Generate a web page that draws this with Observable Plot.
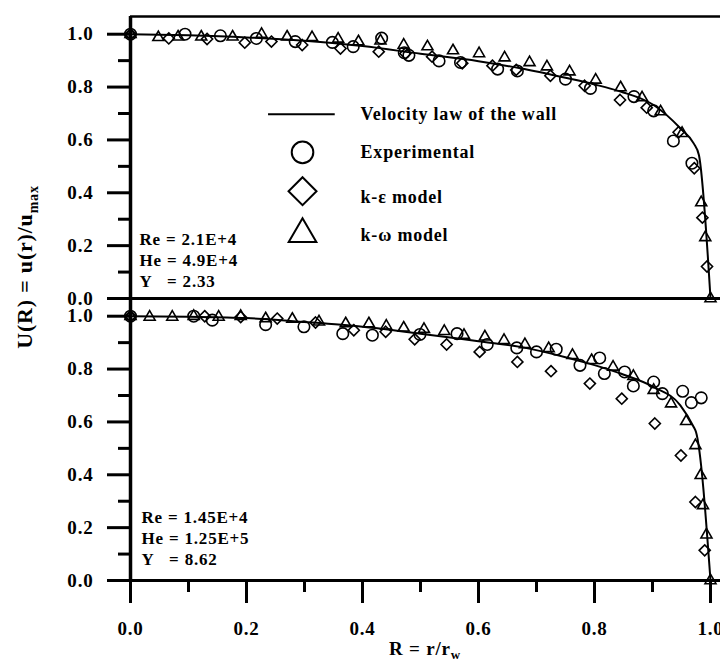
<!DOCTYPE html>
<html><head><meta charset="utf-8">
<script src="https://cdn.jsdelivr.net/npm/d3@7"></script>
<script src="https://cdn.jsdelivr.net/npm/@observablehq/plot@0.6"></script>
<style>
body{margin:0;background:#fff;}
#chart{position:relative;width:720px;height:664px;overflow:hidden;background:#fff;}
</style></head><body><div id="chart"></div>
<script>
// ---------- data (R = r/r_w, U(R)) ----------
const topLaw = [[0,1.0],[0.1,0.996],[0.2,0.988],[0.3,0.975],[0.4,0.955],[0.5,0.926],[0.6,0.898],[0.672,0.871],[0.75,0.835],[0.8,0.81],[0.845,0.783],[0.902,0.732],[0.948,0.644],[0.971,0.587],[0.98,0.543],[1.0,0.0]];
const topExperimental = [[0,1.0],[0.094,1.0],[0.155,0.994],[0.217,0.984],[0.284,0.972],[0.348,0.969],[0.384,0.953],[0.433,0.985],[0.472,0.93],[0.48,0.92],[0.532,0.899],[0.569,0.893],[0.633,0.868],[0.667,0.861],[0.75,0.83],[0.793,0.795],[0.868,0.764],[0.902,0.71],[0.936,0.596],[0.968,0.512]];
const topKEpsilon = [[0,1.0],[0.066,0.984],[0.132,0.982],[0.197,0.968],[0.243,0.972],[0.296,0.959],[0.362,0.946],[0.428,0.934],[0.474,0.927],[0.520,0.915],[0.572,0.890],[0.624,0.881],[0.665,0.865],[0.724,0.843],[0.783,0.805],[0.844,0.751],[0.890,0.722],[0.945,0.629],[0.972,0.493],[0.986,0.306],[0.994,0.121]];
const topKOmega = [[0,1.0],[0.048,0.988],[0.082,0.99],[0.122,0.99],[0.176,0.99],[0.226,1.0],[0.270,0.99],[0.313,0.988],[0.358,0.982],[0.393,0.972],[0.431,0.975],[0.471,0.959],[0.512,0.953],[0.556,0.938],[0.601,0.927],[0.645,0.911],[0.688,0.893],[0.718,0.877],[0.757,0.858],[0.802,0.827],[0.845,0.798],[0.882,0.760],[0.914,0.707],[0.951,0.625],[0.984,0.363],[0.991,0.231],[1.0,0.0]];

const botLaw = [[0,1.0],[0.1,0.998],[0.2,0.993],[0.3,0.978],[0.4,0.96],[0.5,0.934],[0.6,0.905],[0.672,0.884],[0.75,0.845],[0.8,0.815],[0.845,0.783],[0.902,0.732],[0.948,0.663],[0.971,0.581],[0.975,0.562],[1.0,0.0]];
const botExperimental = [[0,1.0],[0.109,1.0],[0.141,0.985],[0.233,0.968],[0.299,0.960],[0.366,0.934],[0.417,0.928],[0.499,0.931],[0.563,0.934],[0.615,0.893],[0.666,0.880],[0.700,0.865],[0.734,0.875],[0.775,0.814],[0.809,0.842],[0.817,0.783],[0.852,0.789],[0.867,0.736],[0.902,0.751],[0.917,0.707],[0.952,0.716],[0.967,0.673],[0.984,0.691]];
const botKEpsilon = [[0,1.0],[0.128,1.0],[0.190,0.997],[0.253,0.991],[0.319,0.976],[0.385,0.947],[0.440,0.941],[0.490,0.913],[0.545,0.893],[0.602,0.865],[0.667,0.827],[0.725,0.792],[0.792,0.745],[0.847,0.688],[0.904,0.594],[0.949,0.473],[0.974,0.297],[0.990,0.114]];
const botKOmega = [[0,1.0],[0.033,0.997],[0.072,0.997],[0.109,1.0],[0.152,0.997],[0.190,1.0],[0.233,0.991],[0.279,0.989],[0.325,0.979],[0.371,0.972],[0.411,0.972],[0.441,0.963],[0.471,0.956],[0.506,0.951],[0.541,0.943],[0.575,0.928],[0.611,0.922],[0.644,0.909],[0.680,0.893],[0.721,0.878],[0.762,0.852],[0.795,0.833],[0.832,0.808],[0.867,0.773],[0.902,0.720],[0.932,0.669],[0.958,0.602],[0.974,0.511],[0.983,0.398],[0.987,0.284],[0.993,0.173],[1.0,0.0]];

const panels = ["top", "bottom"];
const legendLabels = ["Velocity law of the wall", "Experimental", "k-\u03B5 model", "k-\u03C9 model"];
const annotations = ["Re = 2.1E+4\nHe = 4.9E+4\nY   = 2.33", "Re = 1.45E+4\nHe = 1.25E+5\nY   = 8.62"];
const majorTicks = [0, 0.2, 0.4, 0.6, 0.8, 1.0];
const minorTicks = [0.1, 0.3, 0.5, 0.7, 0.9];
const yLabelMain = "U(R) = u(r)/u", yLabelSub = "max";
const xLabelMain = "R = r/r", xLabelSub = "w";

// ---------- tables ----------
const rows = (arr, panel) => arr.map(([x, y]) => ({x, y, panel}));
const law = [...rows(topLaw, "top"), ...rows(botLaw, "bottom")];
const exp = [...rows(topExperimental, "top"), ...rows(botExperimental, "bottom")];
const keps = [...rows(topKEpsilon, "top"), ...rows(botKEpsilon, "bottom")];
const komg = [...rows(topKOmega, "top"), ...rows(botKOmega, "bottom")];

const YMAX = 1.067;
const serif = "'Liberation Serif','Times New Roman',serif";
const fmt = d3.format(".1f");

// legend layout (top panel)
const legLine = [{panel: "top", x1: 0.238, x2: 0.353, y: 0.697}];
const legX = 0.2966;
const legText = legendLabels.map((t, i) => ({panel: "top", x: 0.3966, y: [0.697, 0.553, 0.383, 0.240][i], t}));
const annText = [
  {panel: "top", x: 0.0155, y: 0.149, t: annotations[0]},
  {panel: "bottom", x: 0.019, y: 0.162, t: annotations[1]}
];

const plot = Plot.plot({
  width: 720, height: 664,
  marginLeft: 130, marginRight: 0, marginTop: 15, marginBottom: 84,
  style: {fontFamily: serif, fontWeight: "bold", fontSize: "19px", color: "#000", background: "transparent", overflow: "visible", letterSpacing: "0.8px"},
  x: {domain: [0, 590 / 580], label: null},
  y: {domain: [0, YMAX], label: null},
  fy: {domain: panels, axis: null, padding: 0},
  marks: [
    Plot.ruleX([0], {stroke: "#000", strokeWidth: 3.5}),
    Plot.ruleY([0], {stroke: "#000", strokeWidth: 3}),
    Plot.ruleY([{panel: "top", y: YMAX}], {y: "y", fy: "panel", stroke: "#000", strokeWidth: 2.5}),
    Plot.axisY(majorTicks, {tickSize: 23, tickPadding: 14, strokeWidth: 3, tickFormat: fmt, label: null, facetAnchor: "left"}),
    Plot.axisY(minorTicks, {tickSize: 12, strokeWidth: 3, tickFormat: () => "", label: null, facetAnchor: "left"}),
    Plot.axisX(majorTicks, {tickSize: 23, tickPadding: 18, strokeWidth: 3, tickFormat: fmt, label: null, facetAnchor: "bottom"}),
    Plot.axisX(minorTicks, {tickSize: 12, strokeWidth: 3, tickFormat: () => "", label: null, facetAnchor: "bottom"}),
    Plot.line(law, {x: "x", y: "y", fy: "panel", stroke: "#000", strokeWidth: 2, curve: "monotone-x"}),
    Plot.dot(exp, {x: "x", y: "y", fy: "panel", r: 5.75, stroke: "#000", fill: "none", strokeWidth: 1.6}),
    Plot.dot(keps, {x: "x", y: "y", fy: "panel", symbol: "diamond2", r: 5, stroke: "#000", fill: "none", strokeWidth: 1.6}),
    Plot.dot(komg, {x: "x", y: "y", fy: "panel", symbol: "triangle2", r: 5.25, stroke: "#000", fill: "none", strokeWidth: 1.6}),
    // legend
    Plot.ruleY(legLine, {y: "y", x1: "x1", x2: "x2", fy: "panel", stroke: "#000", strokeWidth: 2}),
    Plot.dot([{panel: "top", x: legX, y: 0.553}], {x: "x", y: "y", fy: "panel", symbol: "circle", r: 10.8, stroke: "#000", fill: "none", strokeWidth: 2}),
    Plot.dot([{panel: "top", x: legX, y: 0.406}], {x: "x", y: "y", fy: "panel", symbol: "diamond2", r: 12.6, stroke: "#000", fill: "none", strokeWidth: 2}),
    Plot.dot([{panel: "top", x: legX, y: 0.2436}], {x: "x", y: "y", fy: "panel", symbol: "triangle2", r: 13.2, stroke: "#000", fill: "none", strokeWidth: 2}),
    Plot.text(legText, {x: "x", y: "y", fy: "panel", text: "t", textAnchor: "start", fontSize: 18, fill: "#000"}),
    // annotations
    Plot.text(annText, {x: "x", y: "y", fy: "panel", text: "t", textAnchor: "start", fontSize: 17, lineHeight: 1.24, fill: "#000"})
  ]
});

// axis titles with subscripts
const svg = d3.select(plot);
const yl = svg.append("text")
  .attr("transform", "translate(32,267) rotate(-90)")
  .attr("text-anchor", "middle")
  .attr("fill", "#000")
  .style("font-size", "22px");
yl.append("tspan").text(yLabelMain);
yl.append("tspan").attr("dy", 6).style("font-size", "14px").text(yLabelSub);

const xl = svg.append("text")
  .attr("transform", "translate(425,655)")
  .attr("text-anchor", "middle")
  .attr("fill", "#000")
  .style("font-size", "19px");
xl.append("tspan").text(xLabelMain);
xl.append("tspan").attr("dy", 4).style("font-size", "13px").text(xLabelSub);

document.getElementById("chart").appendChild(plot);
</script></body></html>
